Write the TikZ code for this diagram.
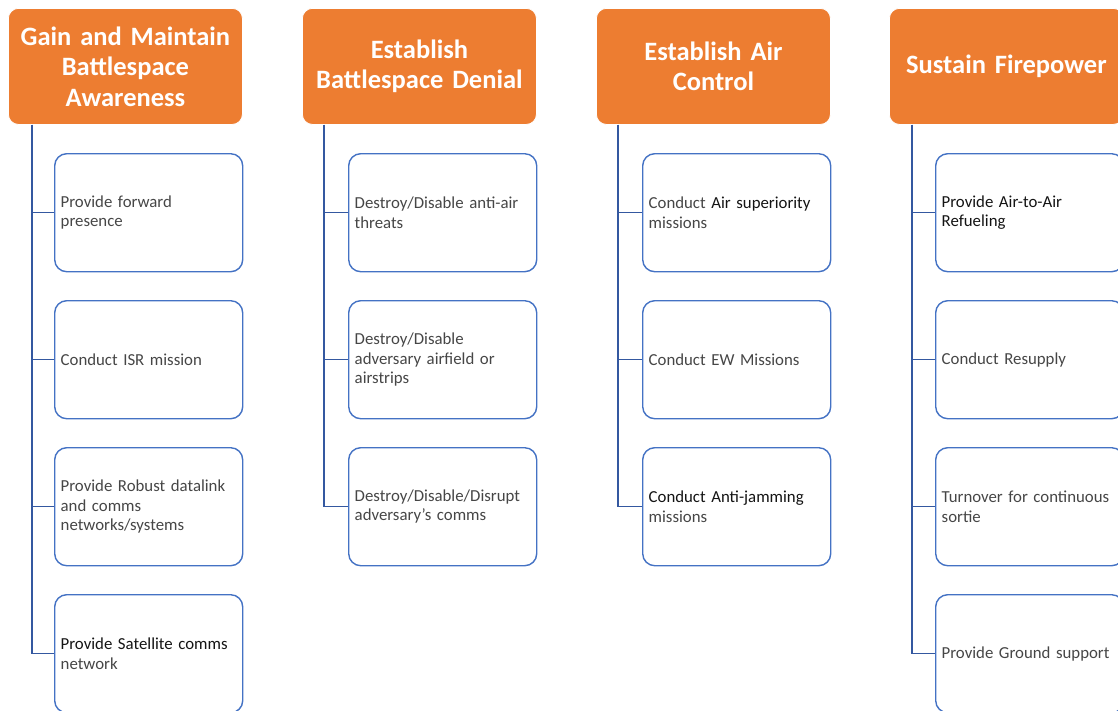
\documentclass[tikz,border=0pt]{standalone}
\usepackage{fontspec}
\setmainfont{Carlito}
\usetikzlibrary{positioning,calc}
\definecolor{head}{RGB}{237,125,49}
\definecolor{frame}{RGB}{68,114,196}
\definecolor{wire}{RGB}{52,88,160}
\definecolor{txt}{RGB}{70,70,70}
\definecolor{dark}{RGB}{20,20,20}
\newcommand{\hl}[1]{\textcolor{dark}{#1}}
\tikzset{
  every picture/.style={x=1pt, y=1pt},
  goal/.style={draw=white, line width=0.8pt, fill=head, rounded corners=10pt,
    minimum width=234pt, minimum height=116pt, text width=230pt, inner sep=2pt,
    align=center, text=white, font=\fontsize{26.5}{30.5}\selectfont\bfseries, anchor=north west},
  task/.style={draw=frame, line width=1.4pt, fill=white, rounded corners=12pt,
    text width=176pt, inner xsep=6pt, inner ysep=0pt, minimum height=118pt,
    align=left, text=txt, font=\fontsize{16.8}{19.5}\selectfont, anchor=north west},
  link/.style={draw=wire, line width=1.4pt},
}
\begin{document}
\begin{tikzpicture}
  \useasboundingbox (0,0) rectangle (1118,-710);
  \clip (0,0) rectangle (1118,-710);
  % headers
  \node[goal] (g1) at (8,-8) {Gain and Maintain\\Battlespace\\Awareness};
  \node[goal] (g2) at (302,-8) {Establish\\Battlespace Denial};
  \node[goal] (g3) at (596,-8) {Establish Air\\Control};
  \node[goal] (g4) at (889,-8) {Sustain Firepower};
  % column 1
  \node[task] (t11) at (54,-153) {Provide forward\\presence};
  \node[task] (t12) at (54,-300) {Conduct ISR mission};
  \node[task] (t13) at (54,-447) {Provide Robust datalink\\and comms\\networks/systems};
  \node[task] (t14) at (54,-594) {\hl{Provide Satellite comms}\\network};
  % column 2
  \node[task] (t21) at (348,-153) {Destroy/Disable anti-air\\threats};
  \node[task] (t22) at (348,-300) {Destroy/Disable\\adversary airfield or\\airstrips};
  \node[task] (t23) at (348,-447) {Destroy/Disable/Disrupt\\adversary's comms};
  % column 3
  \node[task] (t31) at (642,-153) {Conduct \hl{Air superiority}\\missions};
  \node[task] (t32) at (642,-300) {Conduct EW Missions};
  \node[task] (t33) at (642,-447) {\hl{Conduct Anti-jamming}\\missions};
  % column 4
  \node[task] (t41) at (935,-153) {\hl{Provide Air-to-Air}\\\hl{Refueling}};
  \node[task] (t42) at (935,-300) {Conduct Resupply};
  \node[task] (t43) at (935,-447) {Turnover for continuous\\sortie};
  \node[task] (t44) at (935,-594) {Provide Ground support};
  % connectors
  \foreach \k in {1,...,4}
    \draw[link] ([xshift=24pt]g1.south west) |- (t1\k.west);
  \foreach \k in {1,...,3}
    \draw[link] ([xshift=22pt]g2.south west) |- (t2\k.west);
  \foreach \k in {1,...,3}
    \draw[link] ([xshift=22pt]g3.south west) |- (t3\k.west);
  \foreach \k in {1,...,4}
    \draw[link] ([xshift=23pt]g4.south west) |- (t4\k.west);
\end{tikzpicture}
\end{document}
